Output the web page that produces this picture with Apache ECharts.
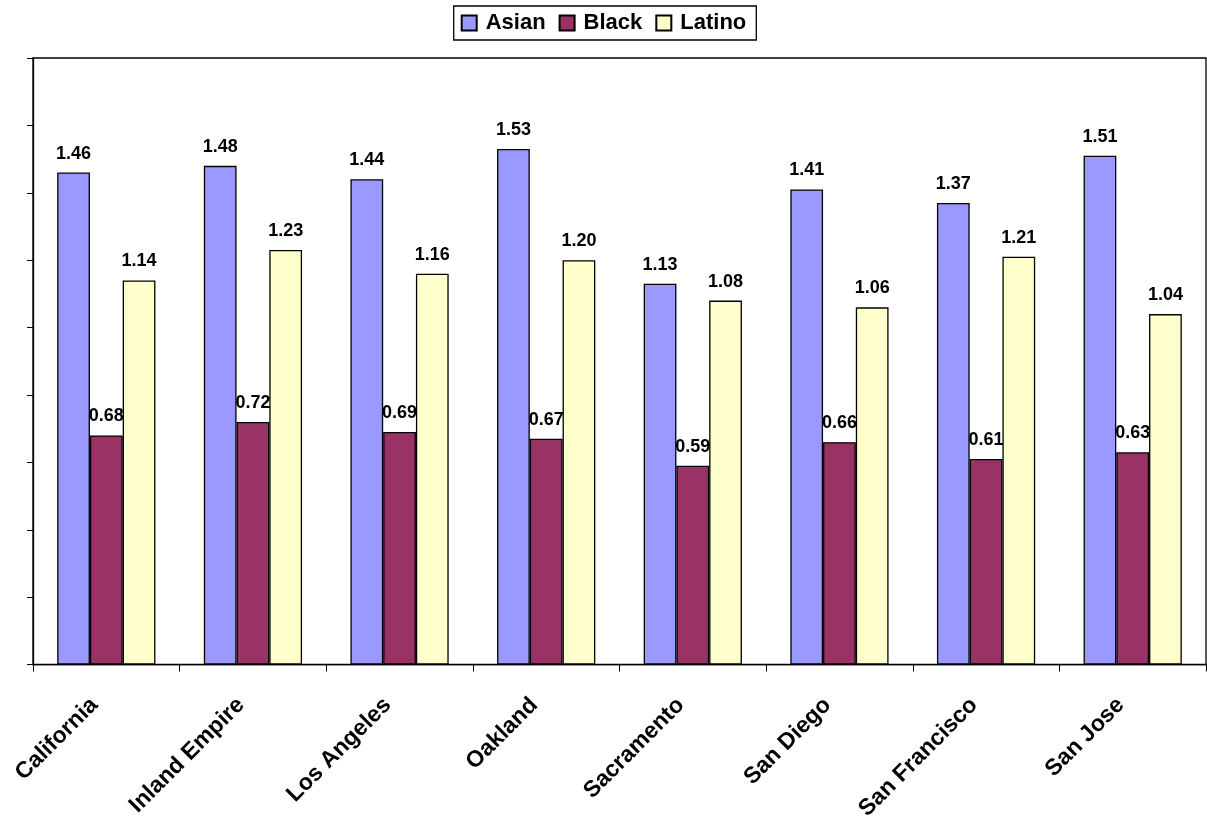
<!DOCTYPE html>
<html>
<head>
<meta charset="utf-8">
<script src="https://cdn.jsdelivr.net/npm/echarts@6/dist/echarts.min.js"></script>
<style>
  html, body { margin: 0; padding: 0; background: #fff; }
  #chart { width: 1207px; height: 823px; }
</style>
</head>
<body>
<div id="chart"></div>
<script>
// Regions along the category axis
const regions = ['California', 'Inland Empire', 'Los Angeles', 'Oakland', 'Sacramento', 'San Diego', 'San Francisco', 'San Jose'];

// Values per group
const asian  = [1.46, 1.48, 1.44, 1.53, 1.13, 1.41, 1.37, 1.51];
const black  = [0.68, 0.72, 0.69, 0.67, 0.59, 0.66, 0.61, 0.63];
const latino = [1.14, 1.23, 1.16, 1.20, 1.08, 1.06, 1.21, 1.04];

const FONT = 'Liberation Sans, Arial, sans-serif';

function barSeries(name, data, color) {
  return {
    name: name,
    type: 'bar',
    data: data,
    barGap: '0%',
    barCategoryGap: '33%',
    itemStyle: { color: color, borderColor: '#000', borderWidth: 1.3 },
    label: {
      show: true,
      position: 'top',
      distance: 10,
      formatter: p => p.value.toFixed(2),
      fontFamily: FONT,
      fontWeight: 'bold',
      fontSize: 18,
      color: '#000'
    }
  };
}

const chart = echarts.init(document.getElementById('chart'), null, { renderer: 'canvas' });
chart.setOption({
  animation: false,
  backgroundColor: '#fff',
  legend: {
    top: 6,
    left: 'center',
    itemWidth: 15,
    itemHeight: 15,
    itemGap: 13,
    icon: 'rect',
    borderColor: '#000',
    borderWidth: 1.3,
    padding: [6, 10, 6, 7],
    textStyle: { fontFamily: FONT, fontWeight: 'bold', fontSize: 22, color: '#000', padding: [0, 0, 0, 4] }
  },
  grid: {
    left: 33,
    right: 1,
    top: 58,
    bottom: 158,
    show: true,
    borderColor: '#000',
    borderWidth: 1.3,
    backgroundColor: 'transparent'
  },
  xAxis: {
    type: 'category',
    data: regions,
    axisLine: { lineStyle: { color: '#000', width: 1.3 } },
    axisTick: { show: true, length: 7, lineStyle: { color: '#000' } },
    axisLabel: {
      rotate: 45,
      margin: 25,
      padding: [0, 17, 0, 0],
      fontFamily: FONT,
      fontWeight: 'bold',
      fontSize: 23,
      color: '#000'
    }
  },
  yAxis: {
    type: 'value',
    min: 0,
    max: 1.8,
    interval: 0.2,
    axisLine: { show: true, lineStyle: { color: '#000', width: 1.3 } },
    axisTick: { show: true, length: 6, lineStyle: { color: '#000' } },
    axisLabel: { show: false },
    splitLine: { show: false }
  },
  series: [
    barSeries('Asian', asian, '#9999FF'),
    barSeries('Black', black, '#993366'),
    barSeries('Latino', latino, '#FFFFCC')
  ]
});
</script>
</body>
</html>
